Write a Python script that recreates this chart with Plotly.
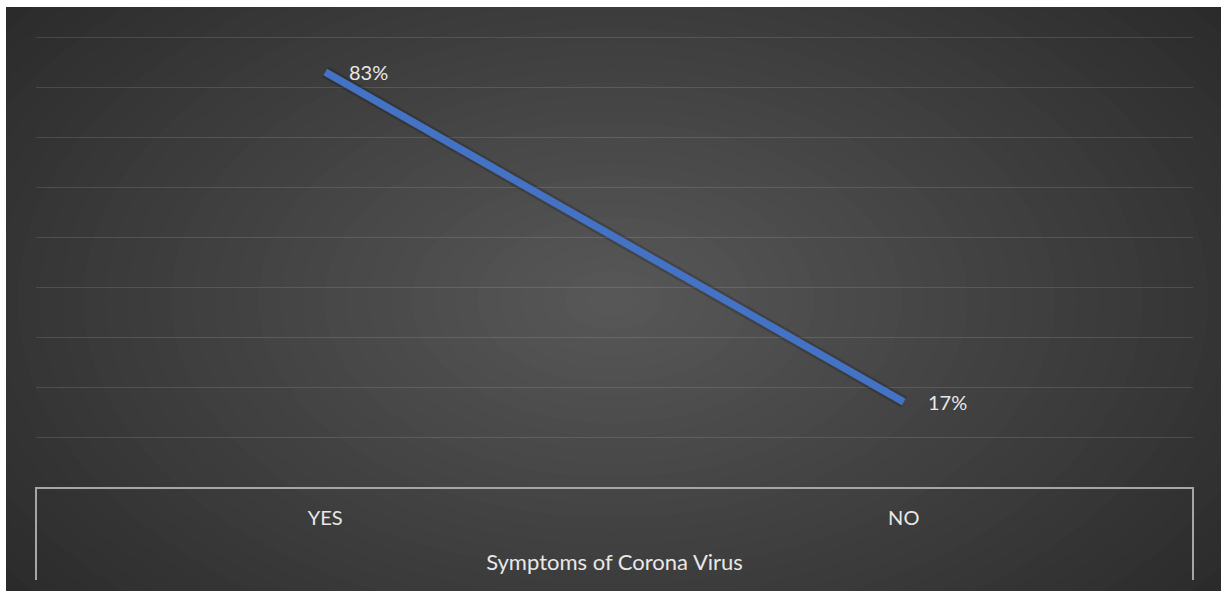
import plotly.graph_objects as go

categories = ["YES", "NO"]
values = [0.83, 0.17]
labels = ["83%", "17%"]
axis_title = "Symptoms of Corona Virus"

W, H = 1221, 591
L, R, T, B = 36, 28, 32, 104
pw, ph = W - L - R, H - T - B

def px(x):
    return (x - L) / pw

def py(y):
    return (H - B - y) / ph

fig = go.Figure()
fig.add_trace(go.Scatter(
    x=categories, y=values, mode="lines",
    line=dict(color="rgba(0,0,0,0.18)", width=12), hoverinfo="skip", showlegend=False,
))
fig.add_trace(go.Scatter(
    x=categories, y=values, mode="lines",
    line=dict(color="#4472C4", width=7.5), hoverinfo="skip", showlegend=False,
))

shapes = []
shapes.append(dict(type="rect", xref="paper", yref="paper", layer="below",
                   x0=px(0), x1=px(W), y0=py(0), y1=py(H), fillcolor="#ffffff", line_width=0))
n = 40
outer = (0x25, 0x25, 0x25)
inner = (0x57, 0x57, 0x57)
cx, cy = 613, 300
rx0, ry0 = 880, 540
shapes.append(dict(type="rect", xref="paper", yref="paper", layer="below",
                   x0=px(6), x1=px(W), y0=py(7), y1=py(H),
                   fillcolor="rgb(%d,%d,%d)" % outer, line_width=0))
for i in range(n):
    f = i / (n - 1)
    col = tuple(int(round(o + (c - o) * f)) for o, c in zip(outer, inner))
    s = 1 - f * 0.97
    rx, ry = rx0 * s, ry0 * s
    shapes.append(dict(type="circle", xref="paper", yref="paper", layer="below",
                       x0=px(cx - rx), x1=px(cx + rx),
                       y0=py(cy + ry), y1=py(cy - ry),
                       fillcolor="rgb(%d,%d,%d)" % col, line_width=0))
shapes.append(dict(type="rect", xref="paper", yref="paper", layer="below",
                   x0=px(-50), x1=px(6), y0=py(-50), y1=py(H + 50), fillcolor="#ffffff", line_width=0))
shapes.append(dict(type="rect", xref="paper", yref="paper", layer="below",
                   x0=px(-50), x1=px(W + 50), y0=py(-50), y1=py(7), fillcolor="#ffffff", line_width=0))
for xx in (36, 1193):
    shapes.append(dict(type="line", xref="paper", yref="paper", layer="above",
                       x0=px(xx), x1=px(xx), y0=py(487), y1=py(580),
                       line=dict(color="#a6a6a6", width=2)))

annotations = []
for c, v, t in zip(categories, values, labels):
    annotations.append(dict(x=c, y=v, text=t, showarrow=False, xanchor="left",
                            yanchor="middle", xshift=22, yshift=0,
                            font=dict(family="Lato", size=20, color="#e8e8e8")))

fig.update_layout(
    width=W, height=H,
    margin=dict(l=L, r=R, t=T, b=B),
    paper_bgcolor="#2a2a2a",
    plot_bgcolor="rgba(0,0,0,0)",
    shapes=shapes,
    annotations=annotations,
    font=dict(family="Lato", color="#e8e8e8"),
    xaxis=dict(
        type="category", range=[-0.5, 1.5], showgrid=False, zeroline=False,
        showline=True, linecolor="#a6a6a6", linewidth=2,
        ticks="", ticklabelstandoff=12,
        tickfont=dict(family="Lato", size=20, color="#e8e8e8"),
        title=dict(text=axis_title, font=dict(family="Lato", size=22, color="#e8e8e8"), standoff=27),
    ),
    yaxis=dict(
        range=[0, 0.91], tickvals=[0.1, 0.2, 0.3, 0.4, 0.5, 0.6, 0.7, 0.8, 0.9],
        showticklabels=False, zeroline=False,
        showgrid=True, gridcolor="rgba(255,255,255,0.12)", gridwidth=1,
    ),
)

fig.write_html("out.html", config={"displayModeBar": False},
               post_script="document.body.style.margin='0px';")
